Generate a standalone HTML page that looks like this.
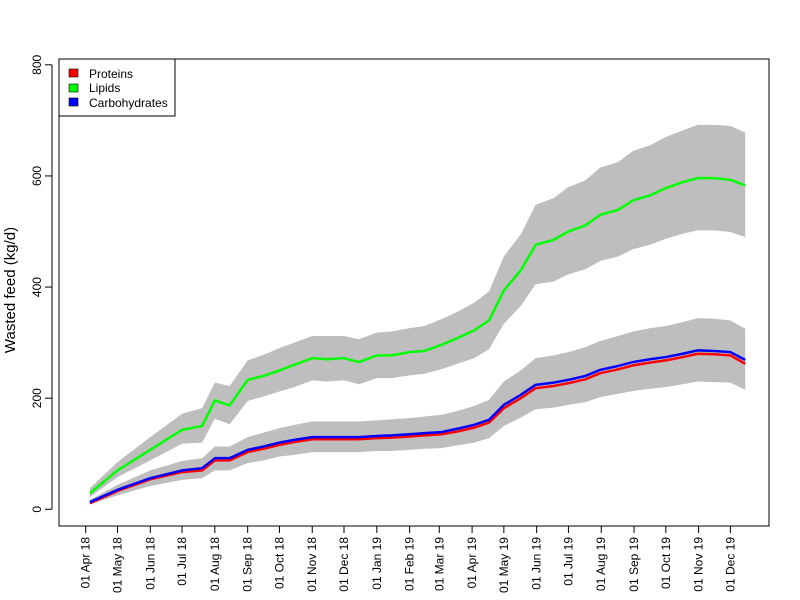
<!DOCTYPE html>
<html><head><meta charset="utf-8"><style>body{margin:0;background:#fff}svg{display:block;font-family:"Liberation Sans",Arial,sans-serif}</style></head>
<body>
<svg id="chart" width="800" height="600">
<g id="bands"></g>
<g id="lines"></g>
<rect x="59" y="59" width="710" height="467" fill="none" stroke="#000"/>
<g id="yaxis"></g>
<g id="xaxis"></g>
<text x="0" y="0" transform="translate(15,290) rotate(-90)" text-anchor="middle" font-size="15">Wasted feed (kg/d)</text>
<g>
<rect x="59" y="59" width="116" height="57" fill="#fff" stroke="#000"/>
<rect x="69" y="69" width="9" height="8" fill="#f00" stroke="#000" stroke-width="0.6"/>
<text x="89" y="78" font-size="12">Proteins</text>
<rect x="69" y="84" width="9" height="8" fill="#0f0" stroke="#000" stroke-width="0.6"/>
<text x="89" y="92" font-size="12">Lipids</text>
<rect x="69" y="98" width="9" height="8" fill="#00f" stroke="#000" stroke-width="0.6"/>
<text x="89" y="107" font-size="12">Carbohydrates</text>
</g>
</svg>
<script>
const dayOffsets=[4,30,61,91,110,122,136,153,168,183,197,214,228,244,258,275,289,306,320,336,351,367,381,395,411,425,442,456,472,486,503,517,533,548,564,578,594,609,623];
const lipids=[29,70,107,143,150,196,187,233,240,250,260,272,270,272,265,277,277,283,285,296,308,322,340,394,430,476,485,500,511,530,539,556,565,578,589,596,596,593,583];
const carbs=[13,35,56,70,74,92,92,107,113,120,125,130,130,130,130,132,133,135,137,139,145,152,161,188,206,224,228,233,240,251,258,265,270,274,280,286,285,283,269];
const proteins=[11,33,54,67,70,88,88,103,109,116,121,126,126,126,126,128,129,131,133,135,140,147,156,182,200,218,222,227,234,245,252,259,264,268,274,280,279,277,262];
const lipidsUpper=[38,85,130,172,182,228,222,268,278,290,300,312,312,312,306,318,320,326,330,342,355,372,392,455,495,548,560,580,592,615,625,645,655,670,682,692,692,690,678];
const lipidsLower=[22,58,88,118,120,163,153,195,203,212,220,232,230,232,225,236,236,241,244,252,262,272,288,334,366,405,410,423,432,447,455,468,476,487,496,502,502,499,490];
const carbsUpper=[17,44,70,87,92,113,113,130,138,146,152,158,158,158,158,160,162,164,167,170,177,186,197,230,250,272,277,283,292,303,312,320,326,330,337,344,343,340,325];
const carbsLower=[9,25,42,53,56,70,70,83,88,95,98,103,103,103,103,105,105,107,109,110,115,120,128,150,165,180,183,188,193,202,208,213,217,220,225,230,229,228,215];
const yTicks=[0,200,400,600,800];
const xTickLabels=["01 Apr 18","01 May 18","01 Jun 18","01 Jul 18","01 Aug 18","01 Sep 18","01 Oct 18","01 Nov 18","01 Dec 18","01 Jan 19","01 Feb 19","01 Mar 19","01 Apr 19","01 May 19","01 Jun 19","01 Jul 19","01 Aug 19","01 Sep 19","01 Oct 19","01 Nov 19","01 Dec 19"];
const xTickDays=[0,30,61,91,122,153,183,214,244,275,306,334,365,395,426,456,487,518,548,579,609];
const NS="http://www.w3.org/2000/svg";
const X=d=>85.7+d*1.0586, Y=v=>509.3-v*0.5556;
function mk(t,a,p){const e=document.createElementNS(NS,t);for(const k in a)e.setAttribute(k,a[k]);p.appendChild(e);return e;}
const bands=document.getElementById('bands'),lines=document.getElementById('lines');
function band(up,lo,name){
  const pts=dayOffsets.map((d,i)=>X(d)+','+Y(up[i])).concat(dayOffsets.map((d,i)=>X(d)+','+Y(lo[i])).reverse());
  const p=mk('polygon',{points:pts.join(' '),fill:'#bebebe'},bands);
  
  
}
band(lipidsUpper,lipidsLower,'lipids-band');
band(carbsUpper,carbsLower,'carbohydrates-band');
function line(vals,col,name){
  const p=mk('polyline',{points:dayOffsets.map((d,i)=>X(d)+','+Y(vals[i])).join(' '),fill:'none',stroke:col,'stroke-width':2.5,'stroke-linejoin':'round'},lines);
  
  
}
line(proteins,'#f00','proteins-line');
line(lipids,'#0f0','lipids-line');
line(carbs,'#00f','carbohydrates-line');
const ya=document.getElementById('yaxis');
mk('line',{x1:52,x2:52,y1:Y(0),y2:Y(800),stroke:'#000'},ya);
yTicks.forEach(v=>{
  mk('line',{x1:45,x2:52,y1:Y(v),y2:Y(v),stroke:'#000'},ya);
  const t=mk('text',{transform:`translate(41,${Y(v)}) rotate(-90)`,'text-anchor':'middle','font-size':12},ya);
  t.textContent=v;
  
  
});
const xa=document.getElementById('xaxis');
mk('line',{x1:X(0),x2:X(609),y1:526,y2:526,stroke:'#000'},xa);
xTickDays.forEach((d,i)=>{
  mk('line',{x1:X(d),x2:X(d),y1:526,y2:533,stroke:'#000'},xa);
  const t=mk('text',{transform:`translate(${X(d)+4},537) rotate(-90)`,'text-anchor':'end','font-size':12},xa);
  t.textContent=xTickLabels[i];
  
  
});
</script>
</body></html>
